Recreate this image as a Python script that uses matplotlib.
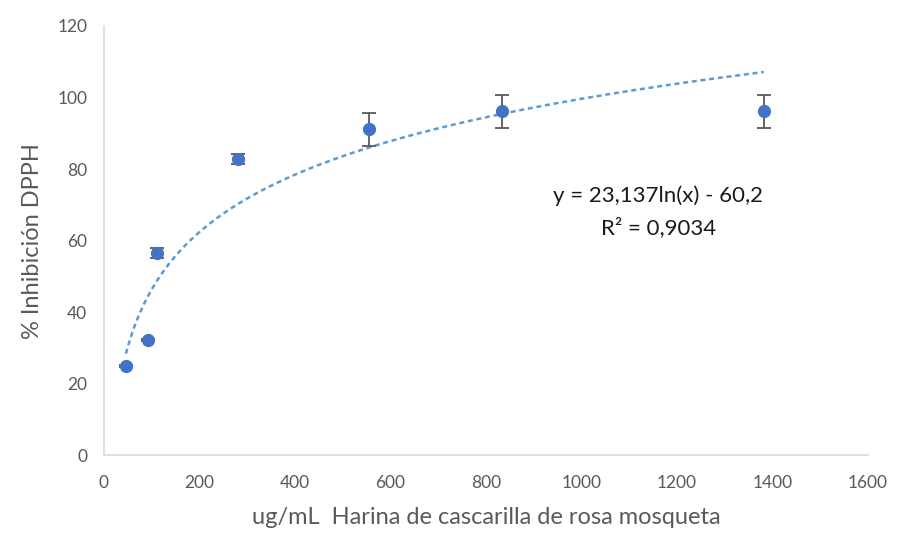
import numpy as np
import matplotlib.pyplot as plt

plt.rcParams['font.family'] = ['Lato', 'DejaVu Sans']

# data
conc = [46, 92, 112, 280, 556, 834, 1382]
inhib = [24.9, 32.2, 56.4, 82.8, 91.1, 96.1, 96.1]
err = [0.3, 0.3, 1.4, 1.3, 4.6, 4.7, 4.7]

# trendline shown on the chart: y = 23,137ln(x) - 60,2
a_coef = 23.137
b_coef = -60.2

grey = '#595959'

fig = plt.figure(figsize=(9.04, 5.4), dpi=100)
ax = fig.add_axes([0.115, 0.157, 0.845, 0.795])

xt = np.linspace(min(conc), max(conc), 300)
ax.plot(xt, a_coef*np.log(xt) + b_coef, color='#5B9BD5', lw=1.8,
        linestyle=(0, (2, 1.5)), zorder=2)

ax.errorbar(conc, inhib, yerr=err, fmt='o', color='#4472C4', ms=8.5,
            ecolor='#595959', elinewidth=1.3, capsize=5, capthick=1.3, zorder=3)

ax.text(1160, 72.5, 'y = 23,137ln(x) - 60,2', ha='center', va='center',
        fontsize=16, color='#1a1a1a')
ax.text(1162, 63.5, 'R² = 0,9034', ha='center', va='center',
        fontsize=16, color='#1a1a1a')

ax.set_xlim(0, 1600)
ax.set_ylim(0, 120)
ax.set_xticks(np.arange(0, 1601, 200))
ax.set_yticks(np.arange(0, 121, 20))
ax.tick_params(length=0, labelsize=12.5, colors=grey, pad=12)
ax.tick_params(axis='x', pad=14)

for s in ['top', 'right']:
    ax.spines[s].set_visible(False)
for s in ['left', 'bottom']:
    ax.spines[s].set_color('#d9d9d9')
    ax.spines[s].set_linewidth(1.2)

ax.set_xlabel('ug/mL  Harina de cascarilla de rosa mosqueta', fontsize=17,
              color=grey, labelpad=12)
ax.set_ylabel('% Inhibición DPPH', fontsize=17, color=grey, labelpad=10)

plt.savefig('out.png', dpi=100)
